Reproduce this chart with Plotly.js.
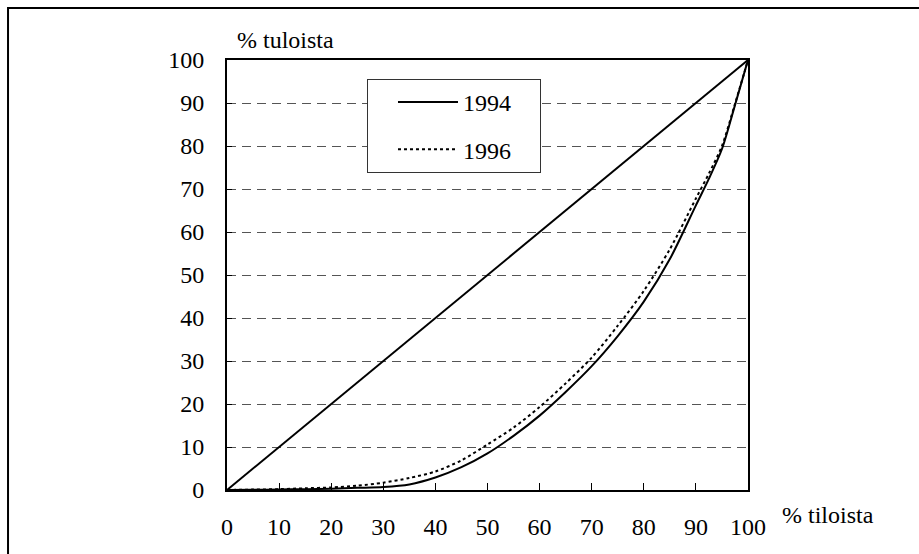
<!DOCTYPE html>
<html>
<head>
<meta charset="utf-8">
<script src="https://cdn.plot.ly/plotly-3.0.1.min.js"></script>
<style>
  html, body { margin: 0; padding: 0; background: #fff; }
  #plot { width: 919px; height: 554px; }
</style>
</head>
<body>
<div id="plot"></div>
<script>
// Lorenz curves: cumulative share of farms (x) vs cumulative share of income (y)
const shareFarms94 = [0, 5, 10, 15, 20, 25, 30, 35, 40, 45, 50, 55, 60, 65, 70, 75, 80, 85, 90, 92.5, 95, 97.5, 100];
const shareIncome94 = [0, 0.05, 0.1, 0.2, 0.3, 0.5, 0.7, 1.3, 2.9, 5.3, 8.5, 12.6, 17.3, 22.8, 28.8, 35.8, 43.8, 53.7, 66.2, 72.4, 79.3, 89.5, 100];

const shareFarms96 = [0, 5, 10, 15, 20, 25, 30, 35, 40, 45, 50, 55, 60, 65, 70, 75, 80, 85, 90, 92.5, 95, 97.5, 100];
const shareIncome96 = [0, 0.1, 0.2, 0.4, 0.6, 1.0, 1.7, 2.8, 4.3, 6.9, 10.6, 14.5, 19.3, 24.8, 30.8, 38.2, 46.3, 56.0, 67.8, 73.6, 80.0, 89.8, 100];

const equalityX = [0, 100];
const equalityY = [0, 100];

const tickVals = [0, 10, 20, 30, 40, 50, 60, 70, 80, 90, 100];

const serif = "Liberation Serif";
const pad = '\u00A0\u00A0\u00A0\u00A0';

let traces = [
    {
        x: equalityX, y: equalityY,
        mode: 'lines',
        line: { color: '#000', width: 2 },
        showlegend: false,
        hoverinfo: 'skip'
    },
    {
        x: shareFarms94, y: shareIncome94,
        mode: 'lines',
        name: '1994' + pad,
        legendgroup: 'a',
        line: { color: '#000', width: 2, shape: 'spline', smoothing: 0.8 }
    },
    {
        x: shareFarms96, y: shareIncome96,
        mode: 'lines',
        name: '1996' + pad,
        legendgroup: 'b',
        line: { color: '#000', width: 2, dash: '3px,3px', shape: 'spline', smoothing: 0.8 }
    }
];

let layout = {
    width: 919,
    height: 554,
    margin: { l: 227, r: 171, t: 60, b: 64 },
    paper_bgcolor: '#fff',
    plot_bgcolor: '#fff',
    font: { family: serif, size: 24, color: '#000' },
    showlegend: true,
    legend: {
        x: 0.2687, y: 0.956,
        xanchor: 'left', yanchor: 'top',
        bordercolor: '#333',
        borderwidth: 1,
        bgcolor: '#fff',
        itemwidth: 60,
        indentation: 25,
        tracegroupgap: 13,
        font: { family: serif, size: 24, color: '#000' }
    },
    xaxis: {
        range: [0, 100],
        tickvals: tickVals,
        ticks: 'inside',
        ticklen: 7,
        tickcolor: '#000',
        tickwidth: 1,
        ticklabelstandoff: 14,
        showgrid: false,
        zeroline: false,
        showline: true,
        linecolor: '#000',
        linewidth: 2,
        mirror: true,
        fixedrange: true
    },
    yaxis: {
        range: [0, 100],
        tickvals: tickVals,
        ticks: 'inside',
        ticklen: 5,
        tickcolor: '#000',
        tickwidth: 1,
        ticklabelstandoff: 16,
        showgrid: true,
        gridcolor: '#555',
        gridwidth: 1,
        griddash: '9px,6px',
        zeroline: false,
        showline: true,
        linecolor: '#000',
        linewidth: 2,
        mirror: true,
        fixedrange: true
    },
    annotations: [
        {
            text: '% tuloista',
            xref: 'paper', yref: 'paper',
            x: 0.0154, y: 1.0465,
            xanchor: 'left', yanchor: 'middle',
            showarrow: false,
            font: { family: serif, size: 24, color: '#000' }
        },
        {
            text: '% tiloista',
            xref: 'paper', yref: 'paper',
            x: 1.0614, y: -0.058,
            xanchor: 'left', yanchor: 'middle',
            showarrow: false,
            font: { family: serif, size: 24, color: '#000' }
        }
    ],
    shapes: [
        {
            type: 'rect',
            xref: 'paper', yref: 'paper',
            x0: -0.4203, x1: 1.4,
            y0: -0.2, y1: 1.1209,
            line: { color: '#000', width: 2 },
            layer: 'below'
        }
    ]
};

Plotly.newPlot('plot', traces, layout, { displayModeBar: false, staticPlot: true });
</script>
</body>
</html>
